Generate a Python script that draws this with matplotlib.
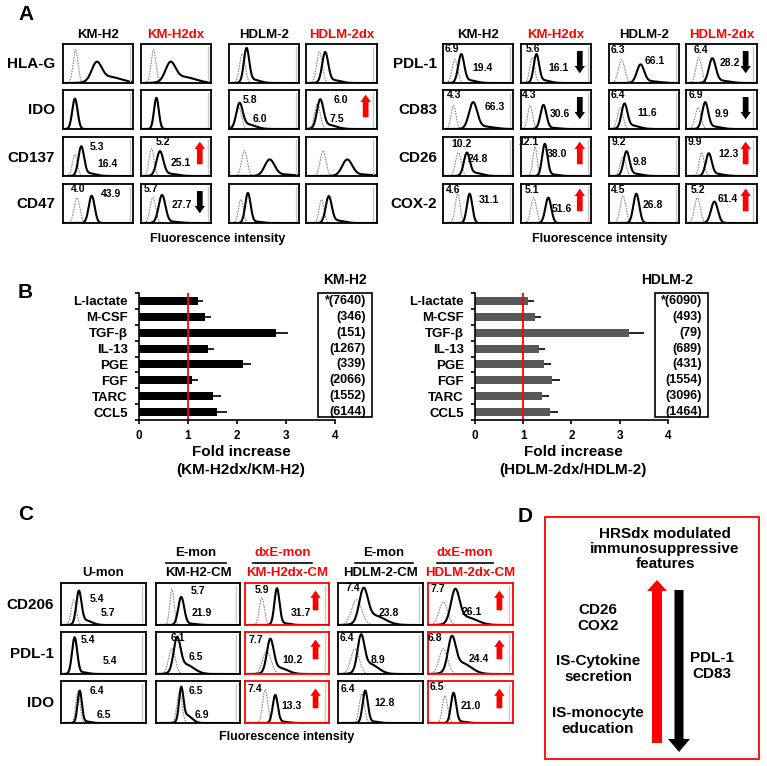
import numpy as np
import matplotlib
matplotlib.use("Agg")
import matplotlib.pyplot as plt
from matplotlib.patches import Rectangle, FancyArrow

plt.rcParams['font.family'] = ['Liberation Sans', 'DejaVu Sans']
plt.rcParams['font.weight'] = 'bold'

W, H = 767, 766

# ---------------- panel A : flow histograms ----------------
a_cols = ['KM-H2', 'KM-H2dx', 'HDLM-2', 'HDLM-2dx']
a_col_colors = ['black', 'red', 'black', 'red']
a_markers_left = ['HLA-G', 'IDO', 'CD137', 'CD47']
a_markers_right = ['PDL-1', 'CD83', 'CD26', 'COX-2']

# isotype peak per column: (centre, width, height), fractions of the box
a_iso = {
    'HLA-G': [(.18, .035, .85), (.18, .035, .85), (.19, .04, .75), (.19, .04, .8)],
    'IDO': [(.17, .035, .75), (.22, .03, .8), (.14, .04, .55), (.16, .04, .65)],
    'CD137': [(.17, .035, .55), (.15, .035, .7), (.22, .04, .65), (.24, .04, .65)],
    'CD47': [(.2, .04, .65), (.17, .04, .65), (.17, .035, .6), (.22, .035, .6)],
    'PDL-1': [(.17, .04, .6), (.16, .035, .65), (.18, .045, .6), (.18, .04, .65)],
    'CD83': [(.15, .035, .6), (.13, .035, .6), (.16, .04, .55), (.17, .04, .55)],
    'CD26': [(.22, .04, .6), (.2, .03, .75), (.2, .04, .5), (.22, .035, .6)],
    'COX-2': [(.21, .035, .75), (.18, .04, .65), (.2, .04, .7), (.16, .04, .65)],
}
# stained peak per column: (centre, width, height, right tail)
a_stain = {
    'HLA-G': [(.48, .07, .45, .35), (.42, .07, .45, .35), (.25, .038, .85, .1), (.27, .042, .75, .1)],
    'IDO': [(.17, .038, .78, 0), (.22, .034, .8, 0), (.15, .045, .6, .2), (.2, .045, .7, .15)],
    'CD137': [(.26, .04, .72, .1), (.27, .048, .6, .1), (.58, .07, .4, .1), (.58, .07, .4, .1)],
    'CD47': [(.41, .042, .7, 0), (.3, .048, .7, .05), (.27, .038, .75, .05), (.32, .042, .65, .1)],
    'PDL-1': [(.26, .042, .7, .1), (.22, .038, .7, .1), (.45, .052, .45, .1), (.37, .048, .6, .1)],
    'CD83': [(.43, .058, .65, .1), (.32, .042, .6, .05), (.22, .042, .6, .15), (.27, .042, .65, .1)],
    'CD26': [(.34, .042, .55, .15), (.34, .038, .8, .05), (.25, .042, .6, .1), (.32, .042, .55, .1)],
    'COX-2': [(.38, .038, .75, 0), (.39, .042, .65, 0), (.39, .042, .75, 0), (.4, .048, .55, 0)],
}
a_labels = {
    'HLA-G': [[], [], [], []],
    'IDO': [[], [], [('5.8', .3, .74), ('6.0', .44, .26)], [('6.0', .49, .74), ('7.5', .44, .26)]],
    'CD137': [[('5.3', .48, .75), ('16.4', .64, .31)], [('5.2', .31, .88), ('25.1', .57, .33)], [], []],
    'CD47': [[('4.0', .22, .86), ('43.9', .68, .74)], [('5.7', .15, .86), ('27.7', .58, .47)], [], []],
    'PDL-1': [[('6.9', .12, .87), ('19.4', .57, .39)], [('5.6', .17, .87), ('16.1', .53, .39)],
              [('6.3', .13, .85), ('66.1', .66, .56)], [('6.4', .21, .85), ('28.2', .62, .5)]],
    'CD83': [[('4.3', .16, .87), ('66.3', .74, .56)], [('4.3', .11, .87), ('30.6', .56, .38)],
             [('6.4', .13, .87), ('11.6', .54, .4)], [('6.9', .14, .87), ('9.9', .5, .38)]],
    'CD26': [[('10.2', .26, .82), ('24.8', .5, .44)], [('12.1', .11, .87), ('38.0', .51, .56)],
             [('9.2', .14, .87), ('9.8', .44, .37)], [('9.9', .13, .87), ('12.3', .6, .56)]],
    'COX-2': [[('4.6', .15, .85), ('31.1', .65, .6)], [('5.1', .15, .85), ('51.6', .59, .36)],
              [('4.5', .13, .85), ('26.8', .62, .47)], [('5.2', .17, .85), ('61.4', .59, .62)]],
}
a_arrows = {
    'HLA-G': [None, None, None, None],
    'IDO': [None, None, None, 'up'],
    'CD137': [None, 'up', None, None],
    'CD47': [None, 'down', None, None],
    'PDL-1': [None, 'down', None, 'down'],
    'CD83': [None, 'down', None, 'down'],
    'CD26': [None, 'up', None, 'up'],
    'COX-2': [None, 'up', None, 'up'],
}

# ---------------- panel B : cytokine fold increase ----------------
b_cats = ['L-lactate', 'M-CSF', 'TGF-β', 'IL-13', 'PGE', 'FGF', 'TARC', 'CCL5']
b_km_fold = [1.2, 1.35, 2.8, 1.41, 2.12, 1.09, 1.51, 1.6]
b_km_err = [0.1, 0.12, 0.25, 0.12, 0.17, 0.11, 0.16, 0.19]
b_km_conc = ['*(7640)', '(346)', '(151)', '(1267)', '(339)', '(2066)', '(1552)', '(6144)']
b_hd_fold = [1.1, 1.24, 3.2, 1.32, 1.43, 1.6, 1.38, 1.55]
b_hd_err = [0.12, 0.12, 0.3, 0.13, 0.14, 0.16, 0.15, 0.16]
b_hd_conc = ['*(6090)', '(493)', '(79)', '(689)', '(431)', '(1554)', '(3096)', '(1464)']

# ---------------- panel C : educated monocytes ----------------
c_cols = ['U-mon', 'KM-H2-CM', 'KM-H2dx-CM', 'HDLM-2-CM', 'HDLM-2dx-CM']
c_col_colors = ['black', 'black', 'red', 'black', 'red']
c_groups = [None, 'E-mon', 'dxE-mon', 'E-mon', 'dxE-mon']
c_markers = ['CD206', 'PDL-1', 'IDO']
c_iso = {
    'CD206': [(.15, .03, .6), (.19, .025, .85), (.2, .03, .65), (.22, .06, .6), (.18, .05, .55)],
    'PDL-1': [(.16, .03, .8), (.19, .04, .6), (.26, .05, .55), (.2, .05, .6), (.18, .05, .6)],
    'IDO': [(.2, .025, .75), (.28, .03, .75), (.24, .03, .8), (.28, .03, .7), (.2, .03, .65)],
}
c_stain = {
    'CD206': [(.21, .03, .75, .15), (.3, .035, .65, .05), (.38, .03, .85, .05), (.3, .05, .75, .3), (.32, .05, .75, .25)],
    'PDL-1': [(.16, .03, .85, .05), (.25, .04, .75, .3), (.3, .04, .75, .2), (.27, .04, .8, .3), (.28, .045, .75, .35)],
    'IDO': [(.22, .025, .75, .05), (.3, .025, .75, .25), (.36, .03, .65, .05), (.32, .03, .75, .05), (.3, .03, .7, .05)],
}
c_labels = {
    'CD206': [[('5.4', .42, .62), ('5.7', .55, .28)], [('5.7', .5, .8), ('21.9', .54, .28)],
              [('5.9', .2, .83), ('31.7', .67, .28)], [('7.4', .18, .88), ('23.8', .6, .28)],
              [('7.7', .12, .85), ('26.1', .51, .3)]],
    'PDL-1': [[('5.4', .32, .8), ('5.4', .58, .3)], [('6.1', .26, .86), ('6.5', .48, .4)],
              [('7.7', .13, .82), ('10.2', .57, .33)], [('6.4', .1, .85), ('8.9', .47, .33)],
              [('6.8', .08, .85), ('24.4', .6, .35)]],
    'IDO': [[('6.4', .42, .75), ('6.5', .5, .2)], [('6.5', .48, .75), ('6.9', .55, .2)],
            [('7.4', .12, .8), ('13.3', .55, .4)], [('6.4', .12, .8), ('12.8', .55, .48)],
            [('6.5', .1, .85), ('21.0', .5, .4)]],
}
c_arrows = [None, None, 'up', None, 'up']

# ---------------- figure ----------------
fig = plt.figure(figsize=(W / 100, H / 100), dpi=100)


def px_axes(x0, y0, x1, y1):
    return fig.add_axes([x0 / W, 1 - y1 / H, (x1 - x0) / W, (y1 - y0) / H])


lay = px_axes(0, 0, W, H)
lay.set_xlim(0, W)
lay.set_ylim(H, 0)
lay.axis('off')
lay.set_zorder(10)

xs = np.linspace(0, 1, 400)


def peak(c, w, h, tail=0.0):
    y = h * np.exp(-0.5 * ((xs - c) / w) ** 2)
    if tail:
        y = y + h * tail * np.exp(-0.5 * ((xs - c - 2.5 * w) / (2.5 * w)) ** 2)
    return y


def histo(box, iso, stain, labels, arrow, edge, span):
    ax = px_axes(*box)
    ax.plot(xs, peak(*iso), color='#8a8a8a', lw=0.8, ls=(0, (1.5, 1.0)))
    ax.plot(xs, peak(*stain), color='black', lw=1.5)
    ax.plot([0.95, 0.95], [0.06, 0.92], color='#c8c8c8', lw=1.0)
    ax.set_xlim(0, 1)
    ax.set_ylim(0, 1)
    ax.set_xticks([])
    ax.set_yticks([])
    for sp in ax.spines.values():
        sp.set_color(edge)
        sp.set_linewidth(1.3)
    for t, tx, ty in labels:
        ax.text(tx, ty, t, fontsize=7.5, ha='center', va='center', transform=ax.transAxes)
    if arrow:
        lo, hi = span
        col = 'red' if arrow == 'up' else 'black'
        a, b = (lo, hi) if arrow == 'up' else (hi, lo)
        ax.annotate('', xy=(0.84, b), xytext=(0.84, a), xycoords='axes fraction',
                    arrowprops=dict(arrowstyle='simple,head_width=1.0,head_length=0.7,tail_width=0.55',
                                    color=col, lw=0, shrinkA=0, shrinkB=0, mutation_scale=7.5))


# panel A
a_rows_y = [(44, 83), (90, 129), (137, 176), (184, 223)]
a_sides = [
    (a_markers_left, [(63, 133), (141, 211), (229, 299), (306, 377)], 55, 218),
    (a_markers_right, [(443, 513), (521, 591), (609, 679), (686, 757)], 437, 600),
]
for markers, xbox, lab_x, fl_x in a_sides:
    for j, name in enumerate(a_cols):
        lay.text((xbox[j][0] + xbox[j][1]) / 2, 35, name, color=a_col_colors[j],
                 fontsize=9.5, ha='center', va='center')
    for i, m in enumerate(markers):
        y0, y1 = a_rows_y[i]
        lay.text(lab_x, (y0 + y1) / 2 + 1, m, fontsize=11, ha='right', va='center')
        for j in range(4):
            histo((xbox[j][0], y0, xbox[j][1], y1), a_iso[m][j], a_stain[m][j],
                  a_labels[m][j], a_arrows[m][j], 'black',
                  (0.3, 0.88) if a_arrows[m][j] == 'up' else (0.25, 0.82))
    lay.text(fl_x, 239, 'Fluorescence intensity', fontsize=9, ha='center', va='center')

lay.text(18, 15, 'A', fontsize=15, ha='left', va='center')


# panel B
def bar_panel(x0, x1, fold, err, conc, color, title, ratio, tab, num_x, title_x, lab_x):
    ax = px_axes(x0, 293, x1, 420)
    ax.patch.set_alpha(0)
    ypos = np.arange(len(b_cats))
    ax.barh(ypos, fold, height=0.5, color=color,
            xerr=[np.zeros(len(err)), err],
            error_kw=dict(ecolor='black', elinewidth=1.2, capsize=0))
    ax.axvline(1, color='red', lw=1.3)
    ax.set_xlim(0, 4)
    ax.set_ylim(7.5, -0.44)
    ax.set_xticks(range(5))
    ax.set_yticks(ypos)
    ax.set_yticklabels(b_cats, fontsize=9.5)
    ax.set_yticks(np.arange(-0.5, 8, 1), minor=True)
    ax.tick_params(axis='y', which='major', length=0, pad=8)
    ax.tick_params(axis='y', which='minor', length=3, width=1.2)
    ax.tick_params(axis='x', length=3, width=1.2, labelsize=8.5, pad=4)
    for s in ['top', 'right']:
        ax.spines[s].set_visible(False)
    for s in ['left', 'bottom']:
        ax.spines[s].set_linewidth(1.2)
    xd = (num_x - x0) / (x1 - x0) * 4
    for i, t in enumerate(conc):
        ax.text(xd, i, t, fontsize=9, ha='right', va='center', clip_on=False)
    lay.add_patch(Rectangle((tab[0], 293), tab[1] - tab[0], 124, fill=False,
                            edgecolor='black', lw=1.2))
    lay.text(title_x, 280, title, fontsize=10, ha='center', va='center')
    lay.text(lab_x, 452, 'Fold increase', fontsize=11, ha='center', va='center')
    lay.text(lab_x, 470, ratio, fontsize=11, ha='center', va='center')


bar_panel(139, 335, b_km_fold, b_km_err, b_km_conc, 'black', 'KM-H2',
          '(KM-H2dx/KM-H2)', (318, 372), 366, 345, 241)
bar_panel(475, 668, b_hd_fold, b_hd_err, b_hd_conc, '#585858', 'HDLM-2',
          '(HDLM-2dx/HDLM-2)', (655, 708), 702, 667, 573)
lay.text(18, 292, 'B', fontsize=15, ha='left', va='center')

# panel C
c_box_x = [(61, 146), (156, 240), (245, 329), (338, 423), (428, 513)]
c_rows_y = [(583, 625), (632, 674), (681, 723)]
c_group_line = [None, (166, 226), (253, 312), (355, 413), (437, 493)]
for j, name in enumerate(c_cols):
    cx = (c_box_x[j][0] + c_box_x[j][1]) / 2
    lay.text(cx, 573, name, color=c_col_colors[j], fontsize=9.5, ha='center', va='center')
    if c_groups[j]:
        gx0, gx1 = c_group_line[j]
        lay.text((gx0 + gx1) / 2, 553, c_groups[j], color=c_col_colors[j],
                 fontsize=9.5, ha='center', va='center')
        lay.plot([gx0, gx1], [563, 563], color='black', lw=1.2)
for i, m in enumerate(c_markers):
    y0, y1 = c_rows_y[i]
    lay.text(54, (y0 + y1) / 2 + 1, m, fontsize=11, ha='right', va='center')
    for j in range(5):
        histo((c_box_x[j][0], y0, c_box_x[j][1], y1), c_iso[m][j], c_stain[m][j],
              c_labels[m][j], c_arrows[j], c_col_colors[j], (0.35, 0.82))
lay.text(287, 737, 'Fluorescence intensity', fontsize=9, ha='center', va='center')
lay.text(18, 514, 'C', fontsize=15, ha='left', va='center')

# panel D
lay.text(518, 516, 'D', fontsize=15, ha='left', va='center')
lay.add_patch(Rectangle((545, 517), 214, 242, fill=False, edgecolor='red', lw=1.3))
lay.text(665, 549, 'HRSdx modulated\nimmunosuppressive\nfeatures', fontsize=11,
         ha='center', va='center', linespacing=1.1)
lay.add_patch(FancyArrow(657, 743, 0, -163, width=10, head_width=20, head_length=11,
                         length_includes_head=True, color='red', lw=0))
lay.add_patch(FancyArrow(679, 590, 0, 162, width=9, head_width=22, head_length=13,
                         length_includes_head=True, color='black', lw=0))
lay.text(598, 618, 'CD26\nCOX2', fontsize=11, ha='center', va='center', linespacing=1.1)
lay.text(598, 669, 'IS-Cytokine\nsecretion', fontsize=11, ha='center', va='center', linespacing=1.1)
lay.text(598, 721, 'IS-monocyte\neducation', fontsize=11, ha='center', va='center', linespacing=1.1)
lay.text(712, 666, 'PDL-1\nCD83', fontsize=11, ha='center', va='center', linespacing=1.1)

fig.savefig('out.png', dpi=100)
